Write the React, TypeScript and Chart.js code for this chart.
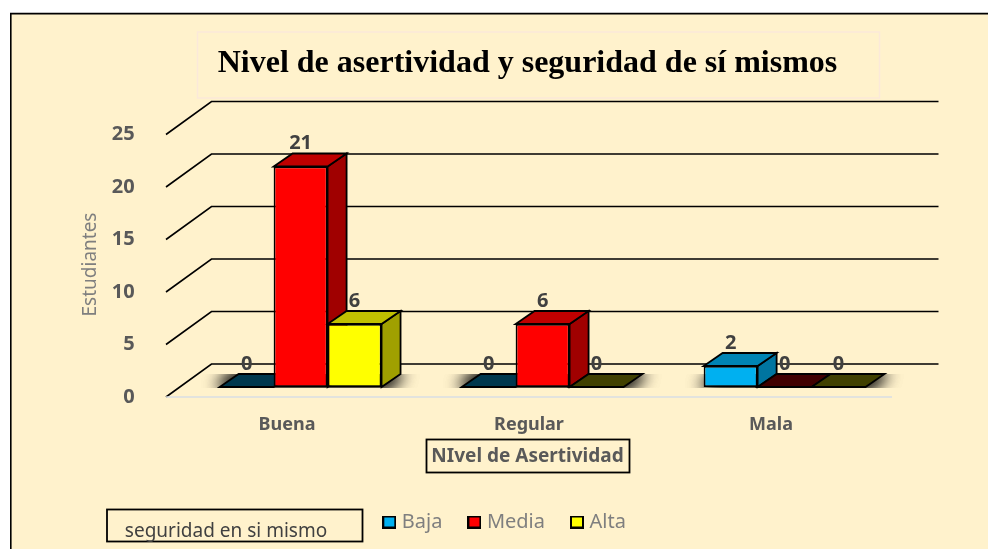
import React, { useEffect, useRef } from "react";
import { Chart, registerables } from "chart.js";

Chart.register(...registerables);

const categories = ["Buena", "Regular", "Mala"];
const baja = [0, 0, 2];
const media = [21, 6, 0];
const alta = [6, 0, 0];
const yTicksMax = 25;
const yStep = 5;
const chartTitle = "Nivel de asertividad y seguridad de sí mismos";
const xTitle = "NIvel de Asertividad";
const yTitle = "Estudiantes";
const legendTitle = "seguridad en si mismo";

const PANEL = "#FFF2CC";
const DEPTH_X = 19; // bar depth
const DEPTH_Y = 13;
const FONT = "'Noto Sans', sans-serif";

const tones: Record<string, { front: string; top: string; side: string; floor: string }> = {
  Baja: { front: "#00B0F0", top: "#0084B4", side: "#0075A0", floor: "#00384D" },
  Media: { front: "#FF0000", top: "#C00000", side: "#A00000", floor: "#400000" },
  Alta: { front: "#FFFF00", top: "#C0C000", side: "#A0A000", floor: "#404000" },
};

function marker(color: string) {
  const c = document.createElement("canvas");
  c.width = 14;
  c.height = 13;
  const g = c.getContext("2d")!;
  g.fillStyle = color;
  g.strokeStyle = "#000";
  g.lineWidth = 2;
  g.fillRect(1, 1, 12, 11);
  g.strokeRect(1, 1, 12, 11);
  return c;
}

function poly(ctx: CanvasRenderingContext2D, pts: number[][], fill: string, stroke = "#000") {
  ctx.beginPath();
  pts.forEach(([x, y], i) => (i ? ctx.lineTo(x, y) : ctx.moveTo(x, y)));
  ctx.closePath();
  ctx.fillStyle = fill;
  ctx.fill();
  ctx.strokeStyle = stroke;
  ctx.lineWidth = 1.8;
  ctx.lineJoin = "miter";
  ctx.stroke();
}

const scene = {
  id: "scene",
  afterLayout(chart: any) {
    const t = chart.titleBlock;
    t.left = 67;
    t.right = 988;
    const l = chart.legend;
    const pad = l.options.labels.padding;
    l.left = 386.8 - pad;
    l.right = 988;
    l.top = 522 - pad - 10;
    l.bottom = 549;
  },
  beforeDraw(chart: any) {
    const { ctx } = chart;
    ctx.save();
    ctx.fillStyle = "#FFFFFF";
    ctx.fillRect(0, 0, 988, 549);
    ctx.fillStyle = PANEL;
    ctx.fillRect(11, 14, 977, 535);
    ctx.strokeStyle = "#000";
    ctx.lineWidth = 1.6;
    ctx.beginPath();
    ctx.moveTo(10.8, 549);
    ctx.lineTo(10.8, 13.6);
    ctx.lineTo(988, 13.6);
    ctx.stroke();
    // title frame
    ctx.strokeStyle = "#FBE9D9";
    ctx.lineWidth = 1.5;
    ctx.strokeRect(197.5, 32, 682, 66);
    ctx.restore();
  },
  beforeDatasetsDraw(chart: any) {
    const { ctx, chartArea: a } = chart;
    const y = chart.scales.y;
    ctx.save();
    // walls
    const fx0 = a.left - 13.6;
    const fx1 = a.right - 13.6;
    ctx.strokeStyle = "#000";
    ctx.lineWidth = 1.6;
    y.ticks.forEach((tick: any) => {
      const p = y.getPixelForValue(tick.value);
      ctx.beginPath();
      ctx.moveTo(fx0, p + 10);
      ctx.lineTo(fx0 + 45.5, p - 23);
      ctx.lineTo(fx1 + 46.5, p - 23);
      ctx.stroke();
    });
    ctx.strokeStyle = "#D9DEE4";
    ctx.lineWidth = 1.6;
    const p0 = y.getPixelForValue(0) + 10;
    ctx.beginPath();
    ctx.moveTo(fx0, p0);
    ctx.lineTo(fx1, p0);
    ctx.stroke();
    // floor shadows per category
    const metas = chart.getSortedVisibleDatasetMetas();
    categories.forEach((_, i) => {
      const els = metas.map((m: any) => m.data[i]);
      const lo = Math.min(...els.map((e: any) => e.x - e.width / 2));
      const hi = Math.max(...els.map((e: any) => e.x + e.width / 2));
      const base = els[0].base;
      ctx.save();
      ctx.beginPath();
      ctx.rect(lo - 40, base - DEPTH_Y, hi - lo + 100, DEPTH_Y + 1);
      ctx.clip();
      ctx.shadowColor = "rgba(0,0,0,1)";
      ctx.shadowBlur = 16;
      ctx.shadowOffsetX = 3000;
      ctx.fillStyle = "#000";
      for (let pass = 0; pass < 2; pass++) {
        ctx.beginPath();
        ctx.moveTo(lo - 5 - 3000, base);
        ctx.lineTo(hi + 5 - 3000, base);
        ctx.lineTo(hi + DEPTH_X + 5 - 3000, base - DEPTH_Y);
        ctx.lineTo(lo + DEPTH_X - 5 - 3000, base - DEPTH_Y);
        ctx.closePath();
        ctx.fill();
      }
      ctx.restore();
    });
    // depth faces, left series first so later ones sit in front
    chart.data.datasets.forEach((ds: any, index: number) => {
      const tone = tones[ds.label];
      chart.getDatasetMeta(index).data.forEach((el: any) => {
        const l = el.x - el.width / 2;
        const r = el.x + el.width / 2;
        const top = el.y;
        const flat = Math.abs(el.base - el.y) < 0.5;
        if (!flat) {
          poly(ctx, [[r, top], [r + DEPTH_X, top - DEPTH_Y], [r + DEPTH_X, el.base - DEPTH_Y], [r, el.base]], tone.side);
        }
        poly(ctx, [[l, top], [r, top], [r + DEPTH_X, top - DEPTH_Y], [l + DEPTH_X, top - DEPTH_Y]], flat ? tone.floor : tone.top);
      });
    });
    ctx.restore();
  },
  afterDatasetsDraw(chart: any) {
    const { ctx } = chart;
    ctx.save();
    ctx.font = `bold 20px ${FONT}`;
    ctx.fillStyle = "#404040";
    ctx.textAlign = "center";
    ctx.textBaseline = "middle";
    chart.data.datasets.forEach((ds: any, i: number) => {
      chart.getDatasetMeta(i).data.forEach((el: any, j: number) => {
        ctx.fillText(String(ds.data[j]), el.x, el.y - 23);
      });
    });
    ctx.restore();
  },
  afterDraw(chart: any) {
    const { ctx } = chart;
    ctx.save();
    ctx.textBaseline = "middle";
    ctx.textAlign = "center";
    ctx.strokeStyle = "#000";
    ctx.lineWidth = 1.8;
    // x axis title
    ctx.strokeRect(426.5, 439.5, 203, 33);
    ctx.font = `bold 19px ${FONT}`;
    ctx.fillStyle = "#595959";
    ctx.fillText(xTitle, 527.5, 456.5);
    // series caption
    ctx.strokeRect(107, 509.5, 255.5, 32);
    ctx.font = `19px ${FONT}`;
    ctx.fillStyle = "#404040";
    ctx.fillText(legendTitle, 226, 532);
    // y axis title
    ctx.translate(91, 264.5);
    ctx.rotate(-Math.PI / 2);
    ctx.font = `19px ${FONT}`;
    ctx.fillStyle = "#7F7F7F";
    ctx.fillText(yTitle, 0, 0);
    ctx.restore();
  },
};

export default function App() {
  const ref = useRef<HTMLCanvasElement>(null);
  useEffect(() => {
    const series: [string, number[]][] = [
      ["Baja", baja],
      ["Media", media],
      ["Alta", alta],
    ];
    const chart = new Chart(ref.current!, {
      type: "bar",
      data: {
        labels: categories,
        datasets: series.map(([label, data]) => ({
          label,
          data,
          backgroundColor: tones[label].front,
          borderColor: "#000000",
          borderWidth: 1.8,
          borderSkipped: false,
          barPercentage: 1,
          categoryPercentage: 0.669,
        })),
      },
      options: {
        responsive: false,
        animation: false,
        layout: { padding: { left: 0, right: 82.4, top: 0, bottom: 0 } },
        plugins: {
          title: {
            display: true,
            text: chartTitle,
            color: "#000000",
            font: { family: "'Liberation Serif', serif", size: 32, weight: "bold", lineHeight: 1.2 },
            padding: { top: 45, bottom: 41.1 },
          },
          legend: {
            display: true,
            position: "bottom",
            align: "start",
            maxHeight: 30,
            labels: {
              usePointStyle: true,
              pointStyleWidth: 5,
              padding: 29.5,
              color: "#7F7F7F",
              font: { family: FONT, size: 20 },
              generateLabels: () =>
                series.map(([label]) => ({
                  text: label,
                  fontColor: "#7F7F7F",
                  pointStyle: marker(tones[label].front),
                  fillStyle: tones[label].front,
                  strokeStyle: "#000",
                  lineWidth: 0,
                })),
            },
          },
          tooltip: { enabled: false },
        },
        scales: {
          x: {
            grid: { display: false, drawTicks: false },
            border: { display: false },
            afterFit: (s: any) => {
              s.height = 132;
            },
            ticks: {
              padding: 27,
              labelOffset: -13.6,
              maxRotation: 0,
              color: "#595959",
              font: { family: FONT, size: 18, weight: "bold" },
            },
          },
          y: {
            min: 0,
            max: yTicksMax,
            grid: { display: false, drawTicks: false },
            border: { display: false },
            afterFit: (s: any) => {
              s.width = 179.6;
            },
            ticks: {
              stepSize: yStep,
              padding: 45,
              labelOffset: 10,
              color: "#595959",
              font: { family: FONT, size: 20, weight: "bold" },
            },
          },
        },
      },
      plugins: [scene],
    } as any);
    return () => chart.destroy();
  }, []);
  return (
    <div style={{ position: "fixed", left: 0, top: 0, width: 988, height: 549 }}>
      <canvas ref={ref} width={988} height={549} style={{ display: "block" }} />
    </div>
  );
}
